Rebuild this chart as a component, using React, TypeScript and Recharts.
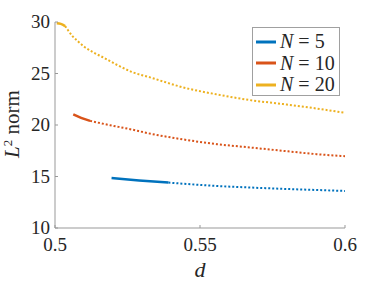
import { LineChart, Line, XAxis, YAxis, Legend } from 'recharts';

// series colours (MATLAB defaults)
const colors = ['#0072BD', '#D95319', '#EDB120'];
const seriesNames = ['5', '10', '20'];

// N = 5
const n5SolidD = [0.5195, 0.529, 0.5391];
const n5SolidL2 = [14.86, 14.62, 14.41];
const n5DotD = [0.5391, 0.5442, 0.5558, 0.5672, 0.5787, 0.5902, 0.6];
const n5DotL2 = [14.41, 14.3, 14.08, 13.93, 13.8, 13.69, 13.6];

// N = 10
const n10SolidD = [0.5063, 0.509, 0.5121];
const n10SolidL2 = [21.03, 20.7, 20.4];
const n10DotD = [0.5121, 0.519, 0.525, 0.533, 0.5442, 0.5558, 0.5672, 0.5787, 0.5902, 0.6];
const n10DotL2 = [20.4, 19.98, 19.65, 19.15, 18.6, 18.14, 17.82, 17.49, 17.17, 16.97];

// N = 20
const n20SolidD = [0.5006, 0.502, 0.5035];
const n20SolidL2 = [29.88, 29.82, 29.6];
const n20DotD = [0.5035, 0.5045, 0.5061, 0.508, 0.5103, 0.5132, 0.5167, 0.5213, 0.527, 0.5328, 0.5442, 0.5558, 0.5672, 0.5787, 0.5902, 0.6];
const n20DotL2 = [29.6, 29.2, 28.6, 28.1, 27.55, 27.05, 26.55, 25.85, 25.1, 24.62, 23.65, 22.97, 22.42, 22.03, 21.6, 21.18];

const xTicks = [0.5, 0.55, 0.6];
const yTicks = [10, 15, 20, 25, 30];

const zip = (d: number[], v: number[]) => d.map((x, i) => ({ d: x, v: v[i] }));

const segments = [
  { key: 'n5s', data: zip(n5SolidD, n5SolidL2), color: colors[0], dotted: false },
  { key: 'n5d', data: zip(n5DotD, n5DotL2), color: colors[0], dotted: true },
  { key: 'n10s', data: zip(n10SolidD, n10SolidL2), color: colors[1], dotted: false },
  { key: 'n10d', data: zip(n10DotD, n10DotL2), color: colors[1], dotted: true },
  { key: 'n20s', data: zip(n20SolidD, n20SolidL2), color: colors[2], dotted: false },
  { key: 'n20d', data: zip(n20DotD, n20DotL2), color: colors[2], dotted: true },
];

const font = '"Liberation Serif", "DejaVu Serif", serif';
const axisColor = '#999999';
const textColor = '#262626';

const XTick = ({ x, y, payload }: any) => (
  <text x={x} y={y + 24} textAnchor="middle" fontFamily={font} fontSize={19} fill={textColor}>
    {String(payload.value)}
  </text>
);

const YTick = ({ y, payload }: any) => (
  <text x={50} y={y + 6} textAnchor="end" fontFamily={font} fontSize={19} fill={textColor}>
    {String(payload.value)}
  </text>
);

const YLabel = () => (
  <text
    x={19}
    y={124}
    transform="rotate(-90, 19, 124)"
    textAnchor="middle"
    fontFamily={font}
    fontSize={21}
    fill={textColor}
  >
    <tspan fontStyle="italic">L</tspan>
    <tspan fontSize={13} dy={-7}>2</tspan>
    <tspan dy={7}> norm</tspan>
  </text>
);

const XLabel = () => (
  <text x={200} y={277} textAnchor="middle" fontFamily={font} fontSize={22} fontStyle="italic" fill={textColor}>
    d
  </text>
);

const LegendBox = () => (
  <div
    style={{
      width: 88,
      height: 69,
      boxSizing: 'border-box',
      border: '1px solid #a0a0a0',
      background: '#fff',
      padding: '3px 0 0 3px',
      fontFamily: font,
      fontSize: 20,
      color: textColor,
    }}
  >
    {seriesNames.map((n, i) => (
      <div key={n} style={{ display: 'flex', alignItems: 'center', height: 21.5 }}>
        <svg width={22} height={4} style={{ marginRight: 2 }}>
          <line x1={0} y1={2} x2={20} y2={2} stroke={colors[i]} strokeWidth={3} />
        </svg>
        <span style={{ whiteSpace: 'nowrap' }}>
          <i>N</i>&nbsp;=&nbsp;{n}
        </span>
      </div>
    ))}
  </div>
);

export default function App() {
  return (
    <div style={{ position: 'absolute', left: 0, top: 0, background: '#fff', fontFamily: font }}>
      <LineChart width={382} height={286} margin={{ top: 22, right: 37, left: 0, bottom: 28 }}>
        <XAxis
          type="number"
          dataKey="d"
          domain={[0.5, 0.6]}
          ticks={xTicks}
          allowDataOverflow
          height={30}
          stroke={axisColor}
          tickSize={-3}
          tick={<XTick />}
          label={<XLabel />}
        />
        <YAxis
          type="number"
          dataKey="v"
          domain={[10, 30]}
          ticks={yTicks}
          allowDataOverflow
          width={55}
          stroke={axisColor}
          tickSize={-3}
          tick={<YTick />}
          label={<YLabel />}
        />
        <Legend
          layout="vertical"
          align="center"
          verticalAlign="middle"
          content={<LegendBox />}
          wrapperStyle={{ position: 'absolute', left: 252, top: 27, width: 88, height: 69 }}
        />
        {segments.map((s) => (
          <Line
            key={s.key}
            data={s.data}
            dataKey="v"
            type="monotone"
            stroke={s.color}
            strokeWidth={s.dotted ? 2 : 2.5}
            strokeDasharray={s.dotted ? '2 2' : undefined}
            dot={false}
            activeDot={false}
            legendType="none"
            isAnimationActive={false}
          />
        ))}
      </LineChart>
    </div>
  );
}
